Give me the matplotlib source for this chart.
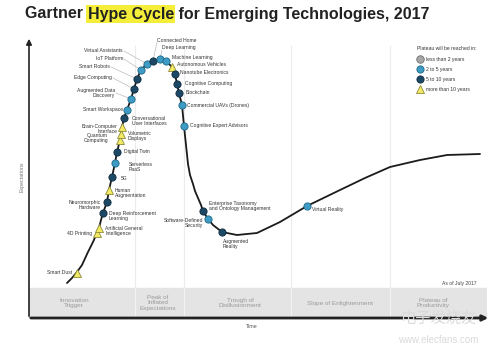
import matplotlib
matplotlib.use("Agg")
import matplotlib.pyplot as plt

plt.rcParams['font.family'] = ['Liberation Sans', 'DejaVu Sans']
NARROW = ['Liberation Sans Narrow', 'Liberation Sans', 'DejaVu Sans']

# hype curve shape (time, expectations)
CURVE_T = [38, 43, 48, 53, 59, 64, 68, 70, 72, 74, 78, 80, 83, 86, 88, 91, 93, 95, 98,
           102, 105, 108, 112, 118, 124, 131, 137, 143, 146, 148, 150, 153, 155, 157,
           159, 161, 164, 166, 169, 172, 174, 179, 184, 193, 208, 228, 251, 278, 311,
           336, 361, 391, 418, 451]
CURVE_E = [35, 40, 46, 53, 66, 76, 85, 90, 98, 105, 116, 128, 141, 155, 166, 178, 191,
           200, 208, 219, 229, 239, 248, 254, 257, 259, 257, 251, 244, 234, 225, 213,
           192, 173, 154, 143, 134, 127, 120, 113, 107, 99, 93, 86, 83, 85, 96, 112,
           128, 140, 151, 158, 163, 164]

TECH = ["Smart Dust", "4D Printing", "Artificial General\nIntelligence",
        "Deep Reinforcement\nLearning", "Neuromorphic\nHardware", "Human\nAugmentation",
        "5G", "Serverless\nPaaS", "Digital Twin", "Quantum\nComputing",
        "Volumetric\nDisplays", "Brain-Computer\nInterface",
        "Conversational\nUser Interfaces", "Smart Workspace", "Augmented Data\nDiscovery",
        "Edge Computing", "Smart Robots", "IoT Platform", "Virtual Assistants",
        "Connected Home", "Deep Learning", "Machine Learning", "Autonomous Vehicles",
        "Nanotube Electronics", "Cognitive Computing", "Blockchain",
        "Commercial UAVs (Drones)", "Cognitive Expert Advisors",
        "Enterprise Taxonomy\nand Ontology Management", "Software-Defined\nSecurity",
        "Augmented\nReality", "Virtual Reality"]
TECH_T = [48, 68, 70, 74, 78, 80, 83, 86, 88, 91, 92, 93, 95, 98, 102, 105, 108, 112,
          118, 124, 131, 137, 143, 146, 148, 150, 153, 155, 174, 179, 193, 278]
TECH_E = [45, 85, 90, 105, 116, 128, 141, 155, 166, 178, 184, 191, 200, 208, 219, 229,
          239, 248, 254, 257, 259, 257, 251, 244, 234, 225, 213, 192, 107, 99, 86, 112]
# years to plateau: "2-5", "5-10", ">10"
TECH_YEARS = [">10", ">10", ">10", "5-10", "5-10", ">10", "5-10", "2-5", "5-10", ">10",
              ">10", ">10", "5-10", "2-5", "2-5", "5-10", "5-10", "2-5", "2-5", "5-10",
              "2-5", "2-5", ">10", "5-10", "5-10", "5-10", "2-5", "2-5", "5-10", "2-5",
              "5-10", "2-5"]

PHASES = ["Innovation\nTrigger", "Peak of\nInflated\nExpectations",
          "Trough of\nDisillusionment", "Slope of Enlightenment",
          "Plateau of\nProductivity"]
PHASE_EDGES = [106, 155, 262, 361]

LEGEND_TITLE = "Plateau will be reached in:"
LEGEND_KEYS = ["<2", "2-5", "5-10", ">10"]
LEGEND_TEXT = ["less than 2 years", "2 to 5 years", "5 to 10 years", "more than 10 years"]

STYLE = {
    "<2": dict(marker="o", mfc="#a7a7a7", mec="#6f6f6f", ms=5.4),
    "2-5": dict(marker="o", mfc="#3e9cc4", mec="#1d6787", ms=5.2),
    "5-10": dict(marker="o", mfc="#1c4865", mec="#0e2c40", ms=5.2),
    ">10": dict(marker="^", mfc="#f2ea62", mec="#8d8a3c", ms=5.4),
}

# label placement: (t, e, ha, leader start or None)
LABEL_POS = {
    "Smart Dust": (43, 46, "right", None),
    "4D Printing": (63, 85, "right", None),
    "Artificial General\nIntelligence": (76, 87, "left", None),
    "Deep Reinforcement\nLearning": (80, 102, "left", None),
    "Neuromorphic\nHardware": (72, 113, "right", None),
    "Human\nAugmentation": (86, 125, "left", None),
    "5G": (92, 140, "left", None),
    "Serverless\nPaaS": (100, 151, "left", None),
    "Digital Twin": (95, 166, "left", None),
    "Quantum\nComputing": (79, 180, "right", None),
    "Volumetric\nDisplays": (99, 182, "left", None),
    "Brain-Computer\nInterface": (89, 189, "right", None),
    "Conversational\nUser Interfaces": (103, 197, "left", None),
    "Smart Workspace": (94, 208, "right", None),
    "Augmented Data\nDiscovery": (86, 225, "right", (87, 225)),
    "Edge Computing": (83, 240, "right", (84, 240)),
    "Smart Robots": (81, 251, "right", (82, 251)),
    "IoT Platform": (94, 259, "right", (95, 259)),
    "Virtual Assistants": (94, 267, "right", (95, 267)),
    "Connected Home": (128, 278, "left", (128, 276)),
    "Deep Learning": (133, 270, "left", (133, 268)),
    "Machine Learning": (143, 260, "left", None),
    "Autonomous Vehicles": (148, 253, "left", None),
    "Nanotube Electronics": (151, 245, "left", None),
    "Cognitive Computing": (156, 235, "left", None),
    "Blockchain": (157, 225, "left", None),
    "Commercial UAVs (Drones)": (158, 213, "left", None),
    "Cognitive Expert Advisors": (161, 192, "left", None),
    "Enterprise Taxonomy\nand Ontology Management": (180, 112, "left", None),
    "Software-Defined\nSecurity": (174, 95, "right", None),
    "Augmented\nReality": (194, 74, "left", None),
    "Virtual Reality": (283, 109, "left", None),
}

fig = plt.figure(figsize=(5, 3.55), dpi=100)
fig.patch.set_facecolor("white")
ax = fig.add_axes([29 / 500, 37 / 355, 458 / 500, 280 / 355])
ax.set_xlim(0, 458)
ax.set_ylim(0, 280)
ax.axis("off")

# phase band + separators
ax.axhspan(0, 30, color="#e4e4e4", zorder=0)
for t in PHASE_EDGES:
    ax.plot([t, t], [30, 272], color="#ececec", lw=0.8, zorder=0)
    ax.plot([t, t], [0, 30], color="#f3f3f3", lw=0.8, zorder=0)
phase_mid = [45, 129, 211, 311, 404]
for name, t in zip(PHASES, phase_mid):
    ax.text(t, 15, name, ha="center", va="center", fontsize=4.6,
            color="#9a9a9a", linespacing=1.05)

# axes with arrows
ax.annotate("", xy=(0, 282), xytext=(0, -1),
            arrowprops=dict(arrowstyle="-|>", color="#222222", lw=1.2, mutation_scale=8),
            annotation_clip=False)
ax.annotate("", xy=(462, 0), xytext=(-1, 0),
            arrowprops=dict(arrowstyle="-|>", color="#222222", lw=2, mutation_scale=8),
            annotation_clip=False)
ax.text(-7, 141, "Expectations", rotation=90, ha="center", va="center",
        fontsize=3.8, color="#777777", family=NARROW)
ax.text(223, -8, "Time", ha="center", va="center", fontsize=3.8,
        color="#555555", family=NARROW)
ax.text(448, 35, "As of July 2017", ha="right", va="center", fontsize=3.6,
        color="#444444", family=NARROW)

# curve
ax.plot(CURVE_T, CURVE_E, color="#1b1b1b", lw=1.3, zorder=2,
        solid_capstyle="round", solid_joinstyle="round")

# leaders, markers, labels
for name, t, e, yrs in zip(TECH, TECH_T, TECH_E, TECH_YEARS):
    lt, le, ha, lead = LABEL_POS[name]
    if lead is not None:
        ax.plot([lead[0], t], [lead[1], e], color="#b5b5b5", lw=0.45, zorder=1)
    ax.plot(t, e, linestyle="none", mew=0.6, zorder=3, **STYLE[yrs])
    ax.text(lt, le, name, ha=ha, va="center", fontsize=3.6, color="#333333",
            family=NARROW, linespacing=1.0, zorder=4)

# legend
ax.text(388, 269, LEGEND_TITLE, ha="left", va="center", fontsize=3.6,
        color="#333333", family=NARROW)
for i, (key, txt) in enumerate(zip(LEGEND_KEYS, LEGEND_TEXT)):
    ey = 259 - 10 * i
    ax.plot(391, ey, linestyle="none", mew=0.6, clip_on=False, **STYLE[key])
    ax.text(397, ey, txt, ha="left", va="center", fontsize=3.6,
            color="#333333", family=NARROW)

# title with highlighted part
renderer = fig.canvas.get_renderer()
parts = [("Gartner ", None), ("Hype Cycle", "#f4ee3a"),
         (" for Emerging Technologies, 2017", None)]
x = 25 / 500
for txt, hl in parts:
    kw = dict(fontsize=11.5, fontweight="bold", color="#222222", va="center", ha="left")
    if hl:
        kw["bbox"] = dict(boxstyle="square,pad=0.1", fc=hl, ec="none")
    tt = fig.text(x, 1 - 14 / 355, txt, **kw)
    bb = tt.get_window_extent(renderer=renderer)
    x += bb.width / fig.bbox.width

# faint site watermark
fig.text(438 / 500, 1 - 318 / 355, "电子发烧友", ha="center", va="center", fontsize=11,
         color="#dadada", family=["Noto Sans CJK SC", "DejaVu Sans"], zorder=0)
fig.text(438 / 500, 1 - 340 / 355, "www.elecfans.com", ha="center", va="center",
         fontsize=7, color="#dadada", zorder=0)

fig.savefig("out.png", dpi=100)
